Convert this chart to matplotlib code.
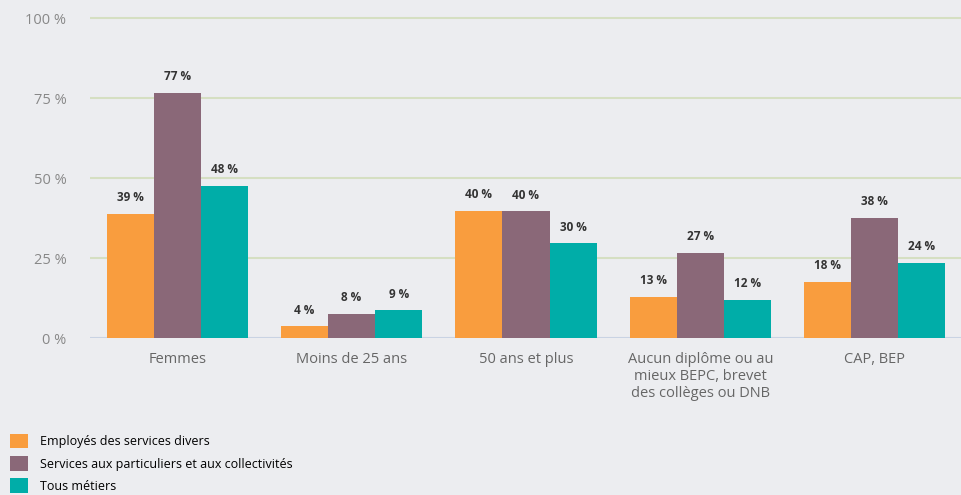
import matplotlib
matplotlib.use("Agg")
import matplotlib.pyplot as plt
from matplotlib.patches import Patch
import numpy as np

plt.rcParams['font.family'] = ['Open Sans', 'DejaVu Sans']

categories = ['Femmes', 'Moins de 25 ans', '50 ans et plus',
              'Aucun diplôme ou au\nmieux BEPC, brevet\ndes collèges ou DNB', 'CAP, BEP']
series_names = ['Employés des services divers',
                'Services aux particuliers et aux collectivités',
                'Tous métiers']
employes = [38.8, 3.6, 39.8, 12.8, 17.6]
services = [76.6, 7.6, 39.6, 26.6, 37.6]
tous = [47.6, 8.6, 29.6, 11.9, 23.5]
colors = ['#f99d3e', '#8a6878', '#00ada8']
yticks = [0, 25, 50, 75, 100]
ytick_labels = ['0 %', '25 %', '50 %', '75 %', '100 %']

bg = '#ecedf0'
fig = plt.figure(figsize=(9.62, 4.95), dpi=100, facecolor=bg)
ax = fig.add_axes([90 / 962, 1 - 338 / 495, 872 / 962, 328 / 495], facecolor=bg)

x = np.arange(len(categories))
w = 0.27
for i, (vals, c) in enumerate(zip([employes, services, tous], colors)):
    pos = x + (i - 1) * w
    ax.bar(pos, vals, width=w, color=c, zorder=3)
    for px, v in zip(pos, vals):
        ax.text(px, v + 3, f'{v:.0f} %', ha='center', va='bottom',
                fontsize=8.5, fontweight='bold', color='#333333', zorder=4)

ax.set_xlim(-0.5, len(categories) - 0.5)
ax.set_ylim(0, 102.5)
ax.set_yticks(yticks)
ax.set_yticklabels(ytick_labels)
for t in yticks[1:]:
    ax.axhline(t, color='#d5dfc2', lw=1.5, zorder=1)
ax.axhline(0, color='#c9d3e3', lw=1.5, zorder=2)

ax.set_xticks(x)
ax.set_xticklabels(categories, fontsize=10.5, color='#666666', linespacing=1.2)
ax.tick_params(axis='x', length=0, pad=10)
ax.tick_params(axis='y', length=0, pad=17, labelsize=10.5, labelcolor='#888888')
for s in ax.spines.values():
    s.set_visible(False)

handles = [Patch(facecolor=c, edgecolor='none') for c in colors]
fig.legend(handles, series_names, loc='upper left', bbox_to_anchor=(0.01, 0.124),
           frameon=False, fontsize=9, handlelength=1.45, handleheight=1.45,
           handletextpad=1.0, labelspacing=0.6, borderaxespad=0, borderpad=0)

fig.savefig('out.png', dpi=100, facecolor=bg)
